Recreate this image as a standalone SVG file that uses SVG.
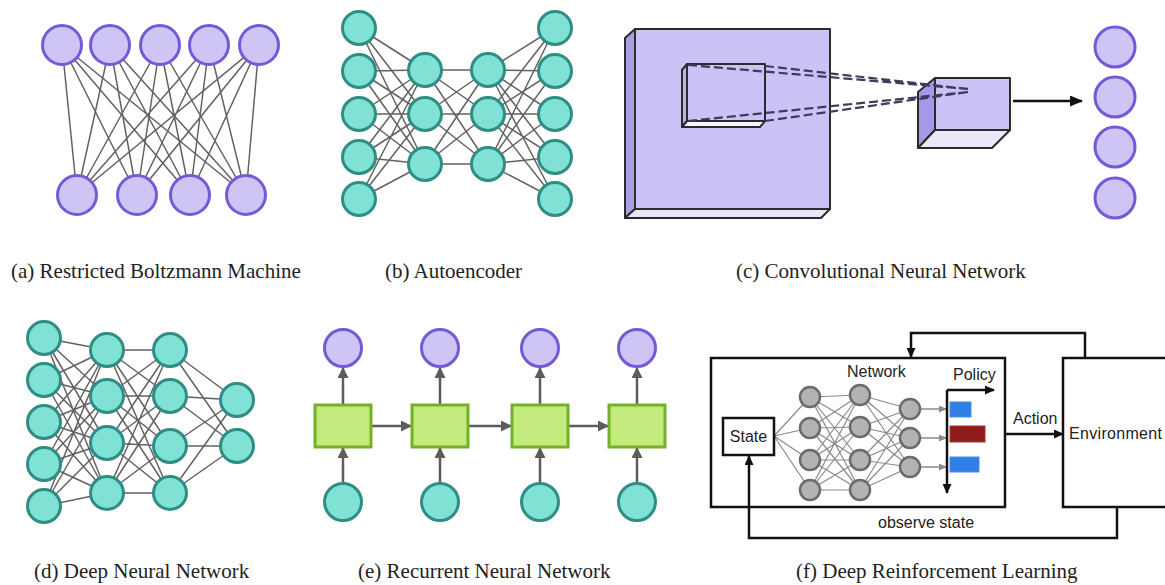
<svg xmlns="http://www.w3.org/2000/svg" width="1165" height="585" viewBox="0 0 1165 585">
<defs>
<style>
.purple{fill:#cec5f5;stroke:#7459d8;stroke-width:3}
.teal{fill:#80e2d5;stroke:#2f8d83;stroke-width:3}
.gray{fill:#b3b3b3;stroke:#6b6b6b;stroke-width:2.5}
.edge{fill:none;stroke:#626262;stroke-width:1.5}
.edge2{fill:none;stroke:#8a8a8a;stroke-width:1.2}
.cap{font-family:"Liberation Serif","Times New Roman",serif;font-size:21px;fill:#222}
.lbl{font-family:"Liberation Sans",Arial,sans-serif;font-size:16px;fill:#222}
.box{fill:#ffffff;stroke:#111;stroke-width:2.5}
.cell{fill:#c3ea7c;stroke:#74b02a;stroke-width:3}
.arr{fill:none;stroke:#5c5c5c;stroke-width:2.5}
.blk{fill:none;stroke:#111;stroke-width:2.5}
.thin{fill:none;stroke:#8a8a8a;stroke-width:1.5}
.dash{fill:none;stroke:#3c3c5c;stroke-width:2.2;stroke-dasharray:9 4}
.face{stroke:#2b2b2b;stroke-width:2;stroke-linejoin:round}
</style>
<marker id="ah-black" markerUnits="userSpaceOnUse" markerWidth="13" markerHeight="11" refX="12" refY="5.5" orient="auto"><path d="M0,0 L13,5.5 L0,11 z" fill="#111"/></marker>
<marker id="ah-black-s" markerUnits="userSpaceOnUse" markerWidth="10" markerHeight="9" refX="9" refY="4.5" orient="auto"><path d="M0,0 L10,4.5 L0,9 z" fill="#111"/></marker>
<marker id="ah-gray" markerUnits="userSpaceOnUse" markerWidth="11" markerHeight="11" refX="10" refY="5.5" orient="auto"><path d="M0,0 L11,5.5 L0,11 z" fill="#5c5c5c"/></marker>
<marker id="ah-gray-s" markerUnits="userSpaceOnUse" markerWidth="8" markerHeight="7" refX="7" refY="3.5" orient="auto"><path d="M0,0 L8,3.5 L0,7 z" fill="#8a8a8a"/></marker>
</defs>
<rect width="1165" height="585" fill="#ffffff"/>

<g id="connectors">
<!-- RBM -->
<path class="edge" d="M62 45L77 195M62 45L137 195M62 45L190 195M62 45L246 195
M110 45L77 195M110 45L137 195M110 45L190 195M110 45L246 195
M160 45L77 195M160 45L137 195M160 45L190 195M160 45L246 195
M209 45L77 195M209 45L137 195M209 45L190 195M209 45L246 195
M259 45L77 195M259 45L137 195M259 45L190 195M259 45L246 195"/>
<!-- Autoencoder -->
<path class="edge" d="M359 28L425 70M359 28L425 114M359 28L425 164
M359 71L425 70M359 71L425 114M359 71L425 164
M359 114L425 70M359 114L425 114M359 114L425 164
M359 157L425 70M359 157L425 114M359 157L425 164
M359 199L425 70M359 199L425 114M359 199L425 164
M425 70L488 70M425 70L488 114M425 70L488 164
M425 114L488 70M425 114L488 114M425 114L488 164
M425 164L488 70M425 164L488 114M425 164L488 164
M488 70L555 28M488 70L555 71M488 70L555 114M488 70L555 157M488 70L555 199
M488 114L555 28M488 114L555 71M488 114L555 114M488 114L555 157M488 114L555 199
M488 164L555 28M488 164L555 71M488 164L555 114M488 164L555 157M488 164L555 199"/>
<!-- DNN -->
<path class="edge" d="M44 338L107 350M44 338L107 396M44 338L107 443M44 338L107 493
M44 380L107 350M44 380L107 396M44 380L107 443M44 380L107 493
M44 422L107 350M44 422L107 396M44 422L107 443M44 422L107 493
M44 464L107 350M44 464L107 396M44 464L107 443M44 464L107 493
M44 506L107 350M44 506L107 396M44 506L107 443M44 506L107 493
M107 350L170 350M107 350L170 396M107 350L170 446M107 350L170 493
M107 396L170 350M107 396L170 396M107 396L170 446M107 396L170 493
M107 443L170 350M107 443L170 396M107 443L170 446M107 443L170 493
M107 493L170 350M107 493L170 396M107 493L170 446M107 493L170 493
M170 350L237 400M170 350L237 446M170 396L237 400M170 396L237 446
M170 446L237 400M170 446L237 446M170 493L237 400M170 493L237 446"/>
<!-- CNN -->
<path class="blk" d="M1013 101H1082" marker-end="url(#ah-black)"/>
<!-- RNN -->
<path class="arr" d="M343 483V448" marker-end="url(#ah-gray)"/>
<path class="arr" d="M440 483V448" marker-end="url(#ah-gray)"/>
<path class="arr" d="M540 483V448" marker-end="url(#ah-gray)"/>
<path class="arr" d="M637 483V448" marker-end="url(#ah-gray)"/>
<path class="arr" d="M343 404V368" marker-end="url(#ah-gray)"/>
<path class="arr" d="M440 404V368" marker-end="url(#ah-gray)"/>
<path class="arr" d="M540 404V368" marker-end="url(#ah-gray)"/>
<path class="arr" d="M637 404V368" marker-end="url(#ah-gray)"/>
<path class="arr" d="M372 426H411" marker-end="url(#ah-gray)"/>
<path class="arr" d="M469 426H511" marker-end="url(#ah-gray)"/>
<path class="arr" d="M569 426H608" marker-end="url(#ah-gray)"/>
<!-- DRL -->
<path class="edge2" d="M774 436L810 397M774 436L810 428M774 436L810 460M774 436L810 490
M810 397L860 395M810 397L860 427M810 397L860 460M810 397L860 490
M810 428L860 395M810 428L860 427M810 428L860 460M810 428L860 490
M810 460L860 395M810 460L860 427M810 460L860 460M810 460L860 490
M810 490L860 395M810 490L860 427M810 490L860 460M810 490L860 490
M860 395L910 409M860 395L910 438M860 395L910 467
M860 427L910 409M860 427L910 438M860 427L910 467
M860 460L910 409M860 460L910 438M860 460L910 467
M860 490L910 409M860 490L910 438M860 490L910 467"/>
<path class="thin" d="M921 409H946" marker-end="url(#ah-gray-s)"/>
<path class="thin" d="M921 438H946" marker-end="url(#ah-gray-s)"/>
<path class="thin" d="M921 467H946" marker-end="url(#ah-gray-s)"/>
<path class="blk" d="M947 390H994" marker-end="url(#ah-black-s)"/>
<path class="blk" d="M947 390V493" marker-end="url(#ah-black-s)"/>
<path class="blk" d="M1005 434H1063" marker-end="url(#ah-black-s)"/>
<path class="blk" d="M1085 358V333H911V357" marker-end="url(#ah-black-s)"/>
<path class="blk" d="M1117 507V538H749V456" marker-end="url(#ah-black-s)"/>
</g>

<!-- RBM nodes -->
<g id="rbm-v1"><circle class="purple" cx="62" cy="45" r="19.5"/></g>
<g id="rbm-v2"><circle class="purple" cx="110" cy="45" r="19.5"/></g>
<g id="rbm-v3"><circle class="purple" cx="160" cy="45" r="19.5"/></g>
<g id="rbm-v4"><circle class="purple" cx="209" cy="45" r="19.5"/></g>
<g id="rbm-v5"><circle class="purple" cx="259" cy="45" r="19.5"/></g>
<g id="rbm-h1"><circle class="purple" cx="77" cy="195" r="19.5"/></g>
<g id="rbm-h2"><circle class="purple" cx="137" cy="195" r="19.5"/></g>
<g id="rbm-h3"><circle class="purple" cx="190" cy="195" r="19.5"/></g>
<g id="rbm-h4"><circle class="purple" cx="246" cy="195" r="19.5"/></g>

<!-- Autoencoder nodes -->
<g id="ae-in1"><circle class="teal" cx="359" cy="28" r="16.5"/></g>
<g id="ae-in2"><circle class="teal" cx="359" cy="71" r="16.5"/></g>
<g id="ae-in3"><circle class="teal" cx="359" cy="114" r="16.5"/></g>
<g id="ae-in4"><circle class="teal" cx="359" cy="157" r="16.5"/></g>
<g id="ae-in5"><circle class="teal" cx="359" cy="199" r="16.5"/></g>
<g id="ae-e1"><circle class="teal" cx="425" cy="70" r="16.5"/></g>
<g id="ae-e2"><circle class="teal" cx="425" cy="114" r="16.5"/></g>
<g id="ae-e3"><circle class="teal" cx="425" cy="164" r="16.5"/></g>
<g id="ae-d1"><circle class="teal" cx="488" cy="70" r="16.5"/></g>
<g id="ae-d2"><circle class="teal" cx="488" cy="114" r="16.5"/></g>
<g id="ae-d3"><circle class="teal" cx="488" cy="164" r="16.5"/></g>
<g id="ae-out1"><circle class="teal" cx="555" cy="28" r="16.5"/></g>
<g id="ae-out2"><circle class="teal" cx="555" cy="71" r="16.5"/></g>
<g id="ae-out3"><circle class="teal" cx="555" cy="114" r="16.5"/></g>
<g id="ae-out4"><circle class="teal" cx="555" cy="157" r="16.5"/></g>
<g id="ae-out5"><circle class="teal" cx="555" cy="199" r="16.5"/></g>

<!-- CNN -->
<g id="cnn-input">
<polygon class="face" fill="#a99fe9" points="625,38 635,29 635,209 625,218"/>
<polygon class="face" fill="#e8e5fa" points="625,218 635,209 830,209 821,218"/>
<rect class="face" fill="#cbc3f6" x="635" y="29" width="195" height="180"/>
<polygon class="face" fill="#b9b0f0" points="682,70 687,64 687,121 682,127"/>
<polygon class="face" fill="#f6f4fe" points="682,127 687,121 765,121 760,127"/>
<rect class="face" fill="#cbc3f6" x="687" y="64" width="78" height="57"/>
</g>
<g id="cnn-feature">
<polygon class="face" fill="#a49ae6" points="918,92 935,78 935,130 918,148"/>
<polygon class="face" fill="#ebe8fb" points="918,148 935,130 1010,130 992,148"/>
<rect class="face" fill="#cbc3f6" x="935" y="78" width="75" height="52"/>
</g>
<g id="cnn-dashes">
<path class="dash" d="M688 65L968 89M765 66L968 89M688 121L968 92M765 121L968 92"/>
</g>
<g id="cnn-o1"><circle class="purple" cx="1115" cy="47" r="20"/></g>
<g id="cnn-o2"><circle class="purple" cx="1115" cy="97" r="20"/></g>
<g id="cnn-o3"><circle class="purple" cx="1115" cy="147" r="20"/></g>
<g id="cnn-o4"><circle class="purple" cx="1115" cy="198" r="20"/></g>

<!-- DNN nodes -->
<g id="dnn-a1"><circle class="teal" cx="44" cy="338" r="16.5"/></g>
<g id="dnn-a2"><circle class="teal" cx="44" cy="380" r="16.5"/></g>
<g id="dnn-a3"><circle class="teal" cx="44" cy="422" r="16.5"/></g>
<g id="dnn-a4"><circle class="teal" cx="44" cy="464" r="16.5"/></g>
<g id="dnn-a5"><circle class="teal" cx="44" cy="506" r="16.5"/></g>
<g id="dnn-b1"><circle class="teal" cx="107" cy="350" r="16.5"/></g>
<g id="dnn-b2"><circle class="teal" cx="107" cy="396" r="16.5"/></g>
<g id="dnn-b3"><circle class="teal" cx="107" cy="443" r="16.5"/></g>
<g id="dnn-b4"><circle class="teal" cx="107" cy="493" r="16.5"/></g>
<g id="dnn-c1"><circle class="teal" cx="170" cy="350" r="16.5"/></g>
<g id="dnn-c2"><circle class="teal" cx="170" cy="396" r="16.5"/></g>
<g id="dnn-c3"><circle class="teal" cx="170" cy="446" r="16.5"/></g>
<g id="dnn-c4"><circle class="teal" cx="170" cy="493" r="16.5"/></g>
<g id="dnn-d1"><circle class="teal" cx="237" cy="400" r="16.5"/></g>
<g id="dnn-d2"><circle class="teal" cx="237" cy="446" r="16.5"/></g>

<!-- RNN nodes -->
<g id="rnn-y1"><circle class="purple" cx="343" cy="348" r="18.5"/></g>
<g id="rnn-y2"><circle class="purple" cx="440" cy="348" r="18.5"/></g>
<g id="rnn-y3"><circle class="purple" cx="540" cy="348" r="18.5"/></g>
<g id="rnn-y4"><circle class="purple" cx="637" cy="348" r="18.5"/></g>
<g id="rnn-h1"><rect class="cell" x="315" y="405" width="56" height="42"/></g>
<g id="rnn-h2"><rect class="cell" x="412" y="405" width="56" height="42"/></g>
<g id="rnn-h3"><rect class="cell" x="512" y="405" width="56" height="42"/></g>
<g id="rnn-h4"><rect class="cell" x="609" y="405" width="56" height="42"/></g>
<g id="rnn-x1"><circle class="teal" cx="343" cy="502" r="18.5"/></g>
<g id="rnn-x2"><circle class="teal" cx="440" cy="502" r="18.5"/></g>
<g id="rnn-x3"><circle class="teal" cx="540" cy="502" r="18.5"/></g>
<g id="rnn-x4"><circle class="teal" cx="637" cy="502" r="18.5"/></g>

<!-- DRL -->
<g id="drl-agent"><rect x="711" y="358" width="294" height="149" fill="none" stroke="#111" stroke-width="2.5"/></g>
<g id="drl-environment"><rect class="box" x="1063" y="358" width="115" height="149"/>
<text class="lbl" x="1069" y="439" textLength="93">Environment</text></g>
<g id="drl-state"><rect class="box" x="723" y="418" width="51" height="37"/>
<text class="lbl" x="748.5" y="442" text-anchor="middle" font-size="15">State</text></g>
<g id="drl-n1"><circle class="gray" cx="810" cy="397" r="10"/></g>
<g id="drl-n2"><circle class="gray" cx="810" cy="428" r="10"/></g>
<g id="drl-n3"><circle class="gray" cx="810" cy="460" r="10"/></g>
<g id="drl-n4"><circle class="gray" cx="810" cy="490" r="10"/></g>
<g id="drl-m1"><circle class="gray" cx="860" cy="395" r="10"/></g>
<g id="drl-m2"><circle class="gray" cx="860" cy="427" r="10"/></g>
<g id="drl-m3"><circle class="gray" cx="860" cy="460" r="10"/></g>
<g id="drl-m4"><circle class="gray" cx="860" cy="490" r="10"/></g>
<g id="drl-o1"><circle class="gray" cx="910" cy="409" r="10"/></g>
<g id="drl-o2"><circle class="gray" cx="910" cy="438" r="10"/></g>
<g id="drl-o3"><circle class="gray" cx="910" cy="467" r="10"/></g>
<g id="drl-policy">
<rect x="950" y="402" width="21" height="15" fill="#2f7fe6" stroke="#4b8fe8" stroke-width="1"/>
<rect x="950" y="426" width="35" height="16" fill="#8e1c1c" stroke="#a33" stroke-width="1"/>
<rect x="950" y="457" width="29" height="15" fill="#2f7fe6" stroke="#4b8fe8" stroke-width="1"/>
</g>
<text class="lbl" x="847" y="377">Network</text>
<text class="lbl" x="953" y="380">Policy</text>
<text class="lbl" x="1013" y="424">Action</text>
<text class="lbl" x="878" y="528">observe state</text>

<!-- captions -->
<text class="cap" x="11" y="278">(a) Restricted Boltzmann Machine</text>
<text class="cap" x="385" y="278">(b) Autoencoder</text>
<text class="cap" x="736" y="278">(c) Convolutional Neural Network</text>
<text class="cap" x="34" y="578">(d) Deep Neural Network</text>
<text class="cap" x="358" y="578">(e) Recurrent Neural Network</text>
<text class="cap" x="796" y="578">(f) Deep Reinforcement Learning</text>
</svg>
